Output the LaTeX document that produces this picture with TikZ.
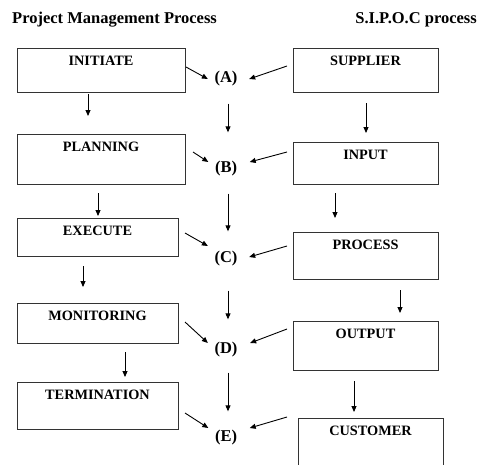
\documentclass[tikz,border=0pt]{standalone}
\usepackage{fontspec}
\setmainfont{Liberation Serif}
\usetikzlibrary{arrows.meta}

\tikzset{
  box/.style 2 args={draw=black!80, line width=0.9pt, anchor=north west,
    inner sep=0pt, outer sep=0pt, minimum width=#1,
    text height=17.5pt, text depth=#2,
    font=\fontsize{14.3}{16}\selectfont\bfseries},
  letter/.style={inner sep=0pt, font=\fontsize{16.5}{18}\selectfont\bfseries},
  heading/.style={inner sep=0pt, font=\fontsize{16.5}{18}\selectfont\bfseries},
  arr/.style={line width=0.9pt, -{Triangle[length=6pt,width=5pt]}}
}

\begin{document}
\begin{tikzpicture}[x=1pt,y=-1pt]
  \useasboundingbox (0,0) rectangle (478,464);

  % headings
  \node[heading, anchor=base west] (pmtitle) at (12,23) {Project Management Process};
  \node[heading, anchor=base east] (siptitle) at (477,23.5) {S.I.P.O.C process};

  % project management column
  \node[box={168pt}{26.5pt}] (init) at (17,48) {INITIATE};
  \node[box={168pt}{32.5pt}] (plan) at (17,134) {PLANNING};
  \node[box={161pt}{20.5pt}] (exec) at (17,218) {EXECUTE};
  \node[box={161pt}{22.5pt}] (mon) at (17,303) {MONITORING};
  \node[box={161pt}{29.5pt}] (term) at (17,382) {TERMINATION};

  % sipoc column
  \node[box={145pt}{26.5pt}] (sup) at (293,48) {SUPPLIER};
  \node[box={145pt}{24.5pt}] (inp) at (293,142) {INPUT};
  \node[box={145pt}{29.5pt}] (proc) at (293,232) {PROCESS};
  \node[box={145pt}{31.5pt}] (outp) at (293,321) {OUTPUT};
  \node[box={145pt}{32.5pt}] (cust) at (298,418) {CUSTOMER};

  % middle letters
  \node[letter] (lA) at (226,79) {(A)};
  \node[letter] (lB) at (226,169) {(B)};
  \node[letter] (lC) at (226,259) {(C)};
  \node[letter] (lD) at (226,350) {(D)};
  \node[letter] (lE) at (226,438) {(E)};

  % down arrows, left
  \draw[arr, shorten <=2pt, shorten >=18pt] ([xshift=-13pt]init.south) -- ([xshift=-13pt]plan.north);
  \draw[arr, shorten <=9pt, shorten >=2pt] ([xshift=-3pt]plan.south) -- ([xshift=0.5pt]exec.north);
  \draw[arr, shorten <=10pt, shorten >=16pt] ([xshift=-14.5pt]exec.south) -- ([xshift=-14.5pt]mon.north);
  \draw[arr, shorten <=9pt, shorten >=5pt] ([xshift=27.5pt]mon.south) -- ([xshift=27.5pt]term.north);

  % down arrows, middle
  \draw[arr, shorten <=17pt, shorten >=29pt] ([xshift=2pt]lA.south) -- ([xshift=2pt]lB.north);
  \draw[arr, shorten <=17pt, shorten >=20pt] ([xshift=2pt]lB.south) -- ([xshift=2pt]lC.north);
  \draw[arr, shorten <=24pt, shorten >=23pt] ([xshift=2pt]lC.south) -- ([xshift=2pt]lD.north);
  \draw[arr, shorten <=15pt, shorten >=19pt] ([xshift=2pt]lD.south) -- ([xshift=2pt]lE.north);

  % down arrows, right
  \draw[arr, shorten <=11pt, shorten >=9pt] ([xshift=0.5pt]sup.south) -- ([xshift=0.5pt]inp.north);
  \draw[arr, shorten <=9pt, shorten >=14pt] ([xshift=-30.5pt]inp.south) -- ([xshift=-30.5pt]proc.north);
  \draw[arr, shorten <=11pt, shorten >=8pt] ([xshift=34.5pt]proc.south) -- ([xshift=34.5pt]outp.north);
  \draw[arr, shorten <=11pt, shorten >=6pt] ([xshift=-11.5pt]outp.south) -- ([xshift=-16.5pt]cust.north);

  % slanted arrows into the letters
  \draw[arr] ([shift={(1,-3)}]init.east) -- ([shift={(-6.5,0)}]lA.west);
  \draw[arr] ([shift={(8,-7)}]plan.east) -- ([shift={(-6.5,-7)}]lB.west);
  \draw[arr] ([shift={(7,-4)}]exec.east) -- ([shift={(-6.5,-13)}]lC.west);
  \draw[arr] ([shift={(7,-1)}]mon.east) -- ([shift={(-6.5,-7)}]lD.west);
  \draw[arr] ([shift={(7,7.5)}]term.east) -- ([shift={(-6.5,-10)}]lE.west);

  \draw[arr] ([shift={(-6,-4)}]sup.west) -- ([shift={(11.5,0)}]lA.east);
  \draw[arr] ([shift={(-6,-11)}]inp.west) -- ([shift={(12.5,-7)}]lB.east);
  \draw[arr] ([shift={(-6,-9.5)}]proc.west) -- ([shift={(11.5,-2)}]lC.east);
  \draw[arr] ([shift={(-6,-16.5)}]outp.west) -- ([shift={(12.5,-7)}]lD.east);
  \draw[arr] ([shift={(-11,-1)}]cust.north west) -- ([shift={(12.5,-10)}]lE.east);
\end{tikzpicture}
\end{document}
